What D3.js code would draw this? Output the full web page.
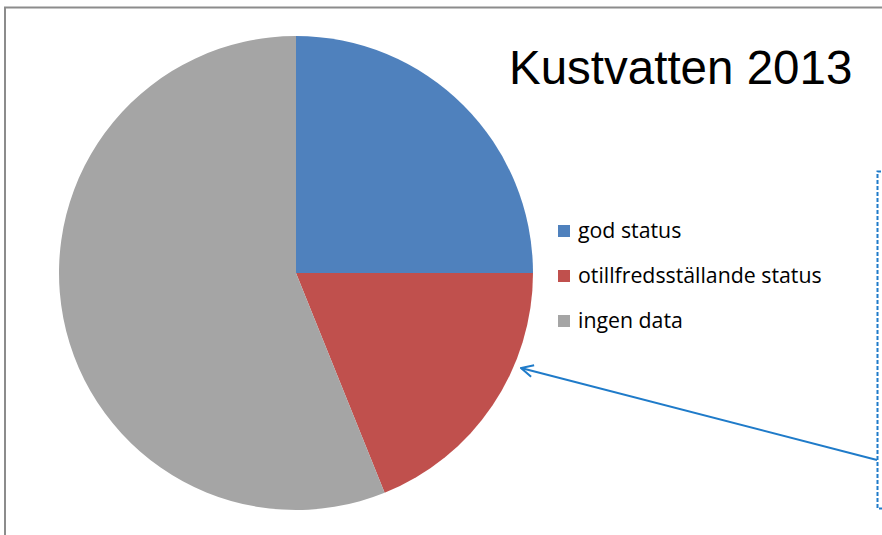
<!DOCTYPE html>
<html>
<head>
<meta charset="utf-8">
<script src="https://cdn.jsdelivr.net/npm/d3@7"></script>
<style>
  body { margin: 0; background: #fff; }
</style>
</head>
<body>
<script>
// Data
const categories = ["god status", "otillfredsställande status", "ingen data"];
const values = [25, 18.9, 56.1];
const colors = ["#4F81BD", "#C0504D", "#A5A5A5"];
const title = "Kustvatten 2013";

const W = 882, H = 535;

const svg = d3.select("body")
  .append("svg")
    .attr("width", W)
    .attr("height", H);

// Frame (top and left edges visible)
svg.append("path")
  .attr("d", `M5,${H} L5,7.5 L${W},7.5`)
  .attr("fill", "none")
  .attr("stroke", "#8c8c8c")
  .attr("stroke-width", 2);

// Pie
const cx = 296, cy = 273, r = 237;
const pie = d3.pie().sort(null).value(d => d);
const arc = d3.arc().innerRadius(0).outerRadius(r);

const g = svg.append("g")
  .attr("transform", `translate(${cx},${cy})`);

g.selectAll("path")
  .data(pie(values))
  .join("path")
    .attr("d", arc)
    .attr("fill", (d, i) => colors[i]);

// Title
svg.append("text")
  .attr("x", 509)
  .attr("y", 84)
  .attr("font-family", "Liberation Sans, Arial, sans-serif")
  .attr("font-size", 47.5)
  .attr("fill", "#000")
  .text(title);

// Legend
const legend = svg.append("g");
const rowY = d3.scalePoint().domain(categories).range([231, 321]);

legend.selectAll("rect")
  .data(categories)
  .join("rect")
    .attr("x", 558)
    .attr("y", d => rowY(d) - 6)
    .attr("width", 12)
    .attr("height", 12)
    .attr("fill", (d, i) => colors[i]);

legend.selectAll("text")
  .data(categories)
  .join("text")
    .attr("x", 578)
    .attr("y", d => rowY(d) + 7)
    .attr("font-family", "'Open Sans', sans-serif")
    .attr("font-size", 21.3)
    .attr("fill", "#000")
    .text(d => d);

// Dashed text box (cut off at the right)
svg.append("path")
  .attr("d", `M${W + 5},171.5 L877.5,171.5 L877.5,508.5 L${W + 5},508.5`)
  .attr("fill", "none")
  .attr("stroke", "#1f7bc9")
  .attr("stroke-width", 2)
  .attr("stroke-dasharray", "4,2");

// Arrow pointing to the red slice
svg.append("defs").append("marker")
  .attr("id", "arrowhead")
  .attr("viewBox", "0 0 14 14")
  .attr("refX", 13)
  .attr("refY", 7)
  .attr("markerWidth", 14)
  .attr("markerHeight", 14)
  .attr("markerUnits", "userSpaceOnUse")
  .attr("orient", "auto")
  .append("path")
    .attr("d", "M1,1 L13,7 L1,13")
    .attr("fill", "none")
    .attr("stroke", "#1f7bc9")
    .attr("stroke-width", 2);

svg.append("line")
  .attr("x1", 877)
  .attr("y1", 460)
  .attr("x2", 521)
  .attr("y2", 368)
  .attr("stroke", "#1f7bc9")
  .attr("stroke-width", 2)
  .attr("marker-end", "url(#arrowhead)");
</script>
</body>
</html>
